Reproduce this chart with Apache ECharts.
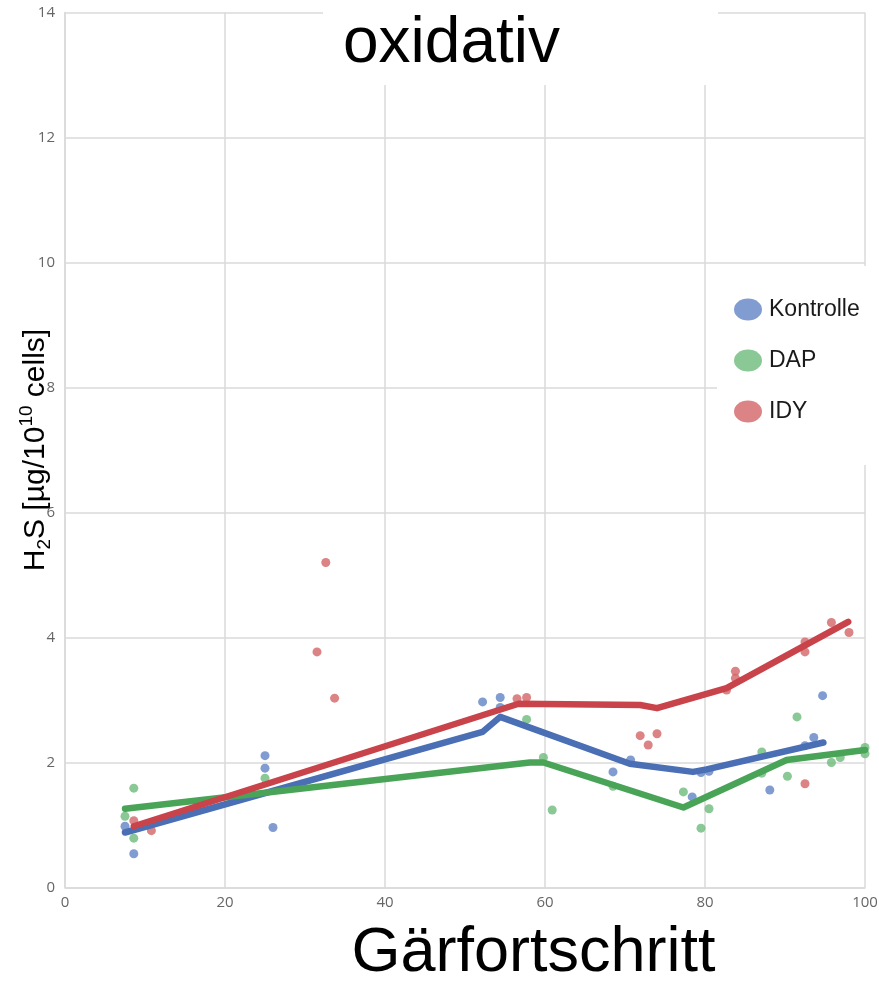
<!DOCTYPE html>
<html>
<head>
<meta charset="utf-8">
<script src="https://cdn.jsdelivr.net/npm/echarts@6/dist/echarts.min.js"></script>
<style>
  html, body { margin: 0; padding: 0; background: #fff; }
  #chart { width: 879px; height: 989px; }
</style>
</head>
<body>
<div id="chart"></div>
<script>
// H2S release over fermentation progress, oxidative conditions
const seriesNames = ['Kontrolle', 'DAP', 'IDY'];

// measured points [Gärfortschritt %, H2S]
const kontrollePoints = [[7.5,0.98],[8.6,0.54],[25,2.11],[25,1.91],[26,0.96],[52.2,2.97],[54.4,3.04],[54.4,2.88],
  [68.5,1.85],[70.7,2.04],[78.4,1.45],[79.5,1.84],[80.5,1.86],[88.1,1.56],[92.5,2.27],[93.6,2.40],[94.7,3.07]];
const dapPoints = [[7.5,1.14],[8.6,1.59],[8.6,0.79],[25,1.75],[57.7,2.69],[59.8,2.08],[60.9,1.24],[68.5,1.62],
  [77.3,1.53],[79.5,0.95],[80.5,1.26],[87.1,2.17],[87.1,1.83],[90.3,1.78],[91.5,2.73],[95.8,2.0],[96.9,2.08],[100,2.24],[100,2.14]];
const idyPoints = [[8.6,1.07],[10.8,0.91],[31.5,3.77],[32.6,5.20],[33.7,3.03],[56.5,3.02],[57.7,3.04],[71.9,2.43],
  [72.9,2.28],[74.0,2.46],[82.7,3.16],[83.8,3.46],[83.8,3.35],[92.5,1.66],[92.5,3.93],[92.5,3.77],[95.8,4.24],[98.0,4.08]];

// smoothed trend of each group
const kontrolleTrend = [[7.5,0.88],[52.2,2.49],[54.4,2.73],[70.6,1.98],[78.5,1.85],[80.2,1.89],[94.8,2.32]];
const dapTrend = [[7.5,1.26],[58.1,2.0],[59.8,2.0],[77.3,1.28],[90.2,2.04],[100,2.2]];
const idyTrend = [[8.6,0.98],[56.7,2.94],[71.9,2.92],[74.0,2.87],[82.7,3.19],[97.9,4.25]];

const xTicks = { min: 0, max: 100, step: 20 };
const yTicks = { min: 0, max: 14, step: 2 };

const pointColors = ['#6283c4', '#6dba7a', '#d26466'];
const lineColors = ['#4a6fb5', '#4aa458', '#c9434b'];
const FONT = '"Liberation Sans", Arial, sans-serif';
const ellipseIcon = 'path://M0,11 A14,11 0 1,0 28,11 A14,11 0 1,0 0,11 Z';

const pointSets = [kontrollePoints, dapPoints, idyPoints];
const trendSets = [kontrolleTrend, dapTrend, idyTrend];

const series = [];
pointSets.forEach((pts, i) => {
  series.push({
    name: seriesNames[i], type: 'scatter', data: pts, symbolSize: 9,
    itemStyle: { color: pointColors[i] }, z: 2
  });
});
trendSets.forEach((pts, i) => {
  series.push({
    name: seriesNames[i], type: 'line', data: pts, showSymbol: false, symbol: 'none',
    lineStyle: { color: lineColors[i], width: 6.5, cap: 'round', join: 'round' },
    itemStyle: { color: lineColors[i] }, z: 3 + i, animation: false
  });
});

const gridLine = { lineStyle: { color: '#dadada', width: 1.5 } };
const tickLabel = { color: '#666', fontSize: 15, fontFamily: '"Open Sans", sans-serif' };

const chart = echarts.init(document.getElementById('chart'), null, { renderer: 'canvas' });
chart.setOption({
  animation: false,
  backgroundColor: '#fff',
  grid: { left: 65, right: 14, top: 12.5, bottom: 101.5, containLabel: false, outerBoundsMode: 'none' },
  xAxis: {
    type: 'value', min: xTicks.min, max: xTicks.max, interval: xTicks.step,
    axisLine: { show: true, lineStyle: { color: '#dadada', width: 1.5 } },
    axisTick: { show: false },
    splitLine: Object.assign({ show: true }, gridLine),
    axisLabel: Object.assign({ margin: 8 }, tickLabel)
  },
  yAxis: {
    type: 'value', min: yTicks.min, max: yTicks.max, interval: yTicks.step,
    axisLine: { show: true, lineStyle: { color: '#dadada', width: 1.5 } },
    axisTick: { show: false },
    splitLine: Object.assign({ show: true }, gridLine),
    axisLabel: Object.assign({ margin: 10 }, tickLabel),
    name: '{a|H}{sub|2}{a|S [µg/10}{sup|10}{a| cells]}',
    nameLocation: 'middle',
    nameGap: 11,
    nameMoveOverlap: false,
    nameTextStyle: {
      fontFamily: FONT, color: '#000',
      rich: {
        a: { fontSize: 30, fontFamily: FONT, color: '#000', lineHeight: 37 },
        sub: { fontSize: 19, fontFamily: FONT, color: '#000', lineHeight: 17, verticalAlign: 'bottom' },
        sup: { fontSize: 19, fontFamily: FONT, color: '#000', lineHeight: 17, verticalAlign: 'top' }
      }
    }
  },
  legend: {
    orient: 'vertical', left: 717, top: 266,
    padding: [32, 17, 42, 17],
    backgroundColor: '#fff',
    itemWidth: 28, itemHeight: 22, itemGap: 28,
    icon: ellipseIcon,
    data: seriesNames.map((n, i) => ({ name: n, itemStyle: { color: pointColors[i] } })),
    textStyle: { fontSize: 23, fontFamily: FONT, color: '#1a1a1a', padding: [0, 0, 0, 2] }
  },
  graphic: [
    { type: 'rect', z: 100, shape: { x: 323, y: 0, width: 395, height: 85 }, style: { fill: '#fff' } },
    { type: 'text', z: 101, x: 451.5, y: 44,
      style: { text: 'oxidativ', font: '64px ' + FONT, fill: '#000', textAlign: 'center', textVerticalAlign: 'middle' } },
    { type: 'text', z: 101, x: 533.5, y: 954,
      style: { text: 'Gärfortschritt', font: '63px ' + FONT, fill: '#000', textAlign: 'center', textVerticalAlign: 'middle' } }
  ],
  series: series
});
</script>
</body>
</html>
